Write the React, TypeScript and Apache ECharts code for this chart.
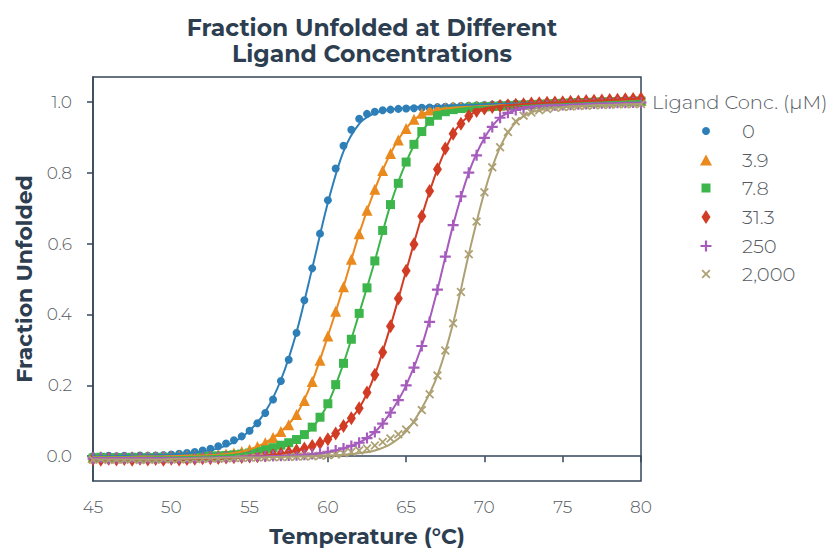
import React, { useEffect, useRef } from "react";
import * as echarts from "echarts";

// Measurement temperatures (°C)
const temps = [
  45, 45.5, 46, 46.5, 47, 47.5, 48, 48.5, 49, 49.5,
  50, 50.5, 51, 51.5, 52, 52.5, 53, 53.5, 54, 54.5,
  55, 55.5, 56, 56.5, 57, 57.5, 58, 58.5, 59, 59.5,
  60, 60.5, 61, 61.5, 62, 62.5, 63, 63.5, 64, 64.5,
  65, 65.5, 66, 66.5, 67, 67.5, 68, 68.5, 69, 69.5,
  70, 70.5, 71, 71.5, 72, 72.5, 73, 73.5, 74, 74.5,
  75, 75.5, 76, 76.5, 77, 77.5, 78, 78.5, 79, 79.5,
  80,
];

// Temperatures of the fitted curves
const fitTemps = [
  45, 46, 47, 48, 49, 50, 51, 52, 53, 54, 55, 56, 57, 58, 59, 60, 61, 62,
  63, 64, 65, 66, 67, 68, 69, 70, 71, 72, 73, 74, 75, 76, 77, 78, 79, 80,
];

const concLabels = ["0", "3.9", "7.8", "31.3", "250", "2,000"];

// Measured fraction unfolded
const conc0 = [
  0.000, -0.002, 0.001, 0.000, 0.001, -0.001, 0.002, 0.001, 0.002, 0.003,
  0.005, 0.007, 0.009, 0.012, 0.016, 0.021, 0.028, 0.036, 0.045, 0.056,
  0.072, 0.093, 0.122, 0.160, 0.212, 0.272, 0.348, 0.440, 0.530, 0.628,
  0.722, 0.812, 0.876, 0.921, 0.952, 0.966, 0.972, 0.976, 0.978, 0.980,
  0.981, 0.982, 0.983, 0.984, 0.985, 0.986, 0.987, 0.988, 0.989, 0.990,
  0.991, 0.992, 0.993, 0.994, 0.995, 0.995, 0.996, 0.997, 0.997, 0.998,
  0.998, 0.999, 0.999, 1.000, 1.000, 1.001, 1.001, 1.002, 1.002, 1.003,
  1.003,
];
const conc3_9 = [
  -0.003, -0.001, -0.004, -0.002, -0.003, -0.001, -0.002, 0.000, -0.001, 0.000,
  0.000, 0.001, 0.001, 0.002, 0.002, 0.003, 0.004, 0.006, 0.009, 0.013,
  0.019, 0.027, 0.038, 0.053, 0.070, 0.089, 0.118, 0.157, 0.211, 0.271,
  0.339, 0.409, 0.478, 0.556, 0.628, 0.694, 0.753, 0.806, 0.854, 0.892,
  0.925, 0.951, 0.968, 0.977, 0.981, 0.983, 0.985, 0.986, 0.987, 0.988,
  0.989, 0.990, 0.991, 0.992, 0.993, 0.994, 0.995, 0.996, 0.997, 0.998,
  0.998, 0.999, 1.000, 1.000, 1.001, 1.002, 1.002, 1.003, 1.003, 1.004,
  1.004,
];
const conc7_8 = [
  -0.005, -0.003, -0.006, -0.004, -0.005, -0.003, -0.006, -0.004, -0.005, -0.003,
  -0.004, -0.003, -0.002, -0.003, -0.001, 0.000, 0.001, 0.002, 0.004, 0.006,
  0.009, 0.013, 0.018, 0.024, 0.031, 0.038, 0.047, 0.061, 0.082, 0.110,
  0.148, 0.202, 0.262, 0.330, 0.403, 0.475, 0.551, 0.637, 0.710, 0.770,
  0.830, 0.880, 0.916, 0.945, 0.962, 0.972, 0.978, 0.981, 0.983, 0.985,
  0.986, 0.987, 0.988, 0.989, 0.990, 0.991, 0.992, 0.993, 0.994, 0.995,
  0.996, 0.997, 0.998, 0.998, 0.999, 1.000, 1.000, 1.001, 1.001, 1.002,
  1.002,
];
const conc31_3 = [
  -0.008, -0.010, -0.007, -0.009, -0.008, -0.010, -0.007, -0.009, -0.008, -0.010,
  -0.007, -0.009, -0.008, -0.007, -0.006, -0.006, -0.005, -0.004, -0.003, -0.002,
  -0.001, 0.000, 0.002, 0.004, 0.007, 0.011, 0.016, 0.022, 0.029, 0.037,
  0.048, 0.064, 0.085, 0.107, 0.135, 0.180, 0.230, 0.293, 0.367, 0.445,
  0.523, 0.598, 0.677, 0.748, 0.810, 0.868, 0.910, 0.938, 0.960, 0.974,
  0.981, 0.985, 0.988, 0.990, 0.992, 0.993, 0.995, 0.996, 0.997, 0.998,
  0.999, 1.000, 1.001, 1.002, 1.003, 1.004, 1.005, 1.006, 1.007, 1.008,
  1.009,
];
const conc250 = [
  -0.006, -0.004, -0.007, -0.005, -0.006, -0.004, -0.007, -0.005, -0.006, -0.004,
  -0.006, -0.005, -0.004, -0.005, -0.003, -0.004, -0.003, -0.002, -0.002, -0.001,
  -0.001, 0.000, 0.000, 0.001, 0.001, 0.002, 0.003, 0.004, 0.006, 0.008,
  0.012, 0.016, 0.022, 0.029, 0.038, 0.051, 0.068, 0.092, 0.123, 0.158,
  0.200, 0.250, 0.311, 0.379, 0.470, 0.563, 0.652, 0.733, 0.800, 0.849,
  0.898, 0.929, 0.955, 0.969, 0.977, 0.982, 0.985, 0.987, 0.989, 0.990,
  0.991, 0.992, 0.993, 0.994, 0.995, 0.996, 0.996, 0.997, 0.997, 0.998,
  0.998,
];
const conc2000 = [
  -0.010, -0.008, -0.011, -0.009, -0.010, -0.008, -0.011, -0.009, -0.010, -0.008,
  -0.009, -0.008, -0.009, -0.007, -0.008, -0.006, -0.007, -0.006, -0.005, -0.005,
  -0.004, -0.004, -0.003, -0.003, -0.002, -0.002, -0.001, -0.001, 0.000, 0.001,
  0.003, 0.005, 0.008, 0.012, 0.016, 0.022, 0.030, 0.040, 0.050, 0.062,
  0.075, 0.096, 0.130, 0.175, 0.228, 0.298, 0.375, 0.463, 0.570, 0.662,
  0.745, 0.815, 0.872, 0.915, 0.945, 0.961, 0.970, 0.976, 0.980, 0.983,
  0.985, 0.987, 0.988, 0.989, 0.990, 0.991, 0.992, 0.993, 0.993, 0.994,
  0.994,
];

// Fitted curves (at fitTemps)
const fit0 = [
  0.000, 0.000, 0.001, 0.002, 0.003, 0.005, 0.008, 0.013, 0.022, 0.040,
  0.072, 0.125, 0.215, 0.350, 0.530, 0.715, 0.860, 0.938, 0.968, 0.978,
  0.983, 0.986, 0.988, 0.990, 0.991, 0.993, 0.994, 0.995, 0.996, 0.997,
  0.998, 0.999, 1.000, 1.001, 1.002, 1.003,
];
const fit3_9 = [
  -0.002, -0.002, -0.002, -0.001, -0.001, 0.000, 0.001, 0.002, 0.004, 0.009,
  0.019, 0.038, 0.070, 0.118, 0.211, 0.339, 0.478, 0.628, 0.753, 0.854,
  0.925, 0.965, 0.978, 0.983, 0.986, 0.988, 0.990, 0.992, 0.994, 0.996,
  0.998, 1.000, 1.001, 1.002, 1.003, 1.004,
];
const fit7_8 = [
  -0.004, -0.004, -0.004, -0.004, -0.003, -0.003, -0.002, -0.001, 0.001, 0.004,
  0.009, 0.018, 0.031, 0.047, 0.080, 0.148, 0.262, 0.403, 0.551, 0.710,
  0.830, 0.916, 0.960, 0.977, 0.983, 0.986, 0.988, 0.990, 0.992, 0.994,
  0.996, 0.998, 0.999, 1.000, 1.001, 1.002,
];
const fit31_3 = [
  -0.008, -0.008, -0.008, -0.008, -0.008, -0.007, -0.007, -0.006, -0.005, -0.003,
  -0.001, 0.002, 0.007, 0.016, 0.029, 0.048, 0.085, 0.135, 0.230, 0.367,
  0.523, 0.677, 0.810, 0.910, 0.960, 0.981, 0.988, 0.992, 0.995, 0.997,
  0.999, 1.001, 1.003, 1.005, 1.007, 1.009,
];
const fit250 = [
  -0.005, -0.005, -0.005, -0.005, -0.005, -0.005, -0.005, -0.004, -0.003, -0.002,
  -0.001, 0.000, 0.001, 0.003, 0.006, 0.012, 0.022, 0.038, 0.068, 0.123,
  0.200, 0.311, 0.470, 0.652, 0.800, 0.898, 0.955, 0.977, 0.987, 0.990,
  0.991, 0.993, 0.995, 0.996, 0.997, 0.998,
];
const fit2000 = [
  -0.009, -0.009, -0.009, -0.009, -0.009, -0.008, -0.007, -0.006, -0.005, -0.004,
  -0.004, -0.003, -0.002, -0.001, 0.000, 0.002, 0.004, 0.008, 0.016, 0.034,
  0.070, 0.135, 0.228, 0.375, 0.570, 0.745, 0.872, 0.942, 0.970, 0.980,
  0.985, 0.988, 0.990, 0.992, 0.993, 0.994,
];

const yTicks = [0, 0.2, 0.4, 0.6, 0.8, 1.0];

const pointSets = [conc0, conc3_9, conc7_8, conc31_3, conc250, conc2000];
const fitSets = [fit0, fit3_9, fit7_8, fit31_3, fit250, fit2000];

const colors = ["#2e7fb8", "#ea8a1e", "#3cb64b", "#d13c25", "#a65cbc", "#ada174"];
const PLUS = "path://M4,0h2v4h4v2h-4v4h-2v-4h-4v-2h4z";
const CROSS =
  "path://M0,1.4L1.4,0L5,3.6L8.6,0L10,1.4L6.4,5L10,8.6L8.6,10L5,6.4L1.4,10L0,8.6L3.6,5Z";
const symbols = ["circle", "triangle", "rect", "diamond", PLUS, CROSS];
const symbolSizes: any[] = [8, 11, 9, [9, 14], 11, 9];
const legendIconSizes = [
  [8, 8],
  [12, 11],
  [9, 9],
  [9, 14],
  [11, 11],
  [9, 9],
];
const legendRowY = [131, 160, 188, 217, 246, 274];

const FONT = "Montserrat, 'Noto Sans', 'Open Sans', sans-serif";
const DARK = "#2c3e50";
const FRAME = "#34465a";
const TICKTXT = "#555b61";

export default function App() {
  const ref = useRef<HTMLDivElement>(null);

  useEffect(() => {
    if (!ref.current) return;
    document.body.style.margin = "0";
    const chart = echarts.init(ref.current, undefined, { renderer: "svg" });

    const series: any[] = [];
    pointSets.forEach((vals, i) => {
      series.push({
        type: "line",
        name: concLabels[i] + " fit",
        data: fitTemps.map((t, j) => [t, fitSets[i][j]]),
        smooth: 0.3,
        showSymbol: false,
        silent: true,
        lineStyle: { color: colors[i], width: 2 },
        itemStyle: { color: colors[i] },
      });
      series.push({
        type: "scatter",
        name: concLabels[i],
        data: temps.map((t, j) => [t, vals[j]]),
        symbol: symbols[i],
        symbolSize: symbolSizes[i],
        itemStyle: { color: colors[i], opacity: 1 },
      });
    });

    const legends = concLabels.map((name, i) => {
      const [w, h] = legendIconSizes[i];
      return {
        data: [{ name, icon: symbols[i] }],
        orient: "vertical",
        left: 706 - w / 2,
        top: legendRowY[i] - 11,
        padding: 0,
        itemWidth: w,
        itemHeight: h,
        selectedMode: false,
        textStyle: {
          fontFamily: FONT,
          fontSize: 19.5,
          fontWeight: 300,
          color: TICKTXT,
          lineHeight: 22,
          padding: [0, 0, 0, 31 - w / 2],
        },
      };
    });

    chart.setOption({
      animation: false,
      backgroundColor: "#ffffff",
      title: {
        text: "Fraction Unfolded at Different\nLigand Concentrations",
        left: 367,
        top: 9,
        textAlign: "center",
        textStyle: {
          fontFamily: FONT,
          fontSize: 23.5,
          fontWeight: "bold",
          color: DARK,
          lineHeight: 26,
        },
      },
      legend: legends,
      graphic: [
        {
          type: "text",
          left: 652,
          top: 92,
          style: {
            text: "Ligand Conc. (µM)",
            fontFamily: FONT,
            fontSize: 19.5,
            fontWeight: 300,
            fill: TICKTXT,
          },
        },
      ],
      grid: {
        left: 93,
        right: 190,
        top: 77,
        bottom: 65,
        show: true,
        borderColor: FRAME,
        borderWidth: 1.5,
        backgroundColor: "transparent",
      },
      xAxis: {
        type: "value",
        min: 45,
        max: 80,
        interval: 5,
        name: "Temperature (°C)",
        nameLocation: "middle",
        nameGap: 44,
        nameTextStyle: {
          fontFamily: FONT,
          fontSize: 22,
          fontWeight: "bold",
          color: DARK,
        },
        axisLine: { show: true, lineStyle: { color: FRAME, width: 1.5 } },
        axisTick: { show: true, inside: false, length: 6, lineStyle: { color: FRAME, width: 1.5 } },
        axisLabel: {
          margin: 17,
          fontFamily: FONT,
          fontSize: 17,
          fontWeight: 300,
          color: TICKTXT,
        },
        splitLine: { show: false },
      },
      yAxis: {
        type: "value",
        min: -0.07,
        max: 1.07,
        name: "Fraction Unfolded",
        nameLocation: "middle",
        nameGap: 50,
        nameTextStyle: {
          fontFamily: FONT,
          fontSize: 22,
          fontWeight: "bold",
          color: DARK,
        },
        axisLine: { show: true, lineStyle: { color: FRAME, width: 1.5 } },
        axisTick: {
          show: true,
          inside: false,
          length: 6,
          customValues: yTicks,
          lineStyle: { color: FRAME, width: 1.5 },
        },
        axisLabel: {
          margin: 21,
          customValues: yTicks,
          formatter: (v: number) => v.toFixed(1),
          fontFamily: FONT,
          fontSize: 17,
          fontWeight: 300,
          color: TICKTXT,
        },
        splitLine: { show: false },
      },
      series,
    });

    return () => chart.dispose();
  }, []);

  return <div ref={ref} style={{ width: 831, height: 552 }} />;
}
